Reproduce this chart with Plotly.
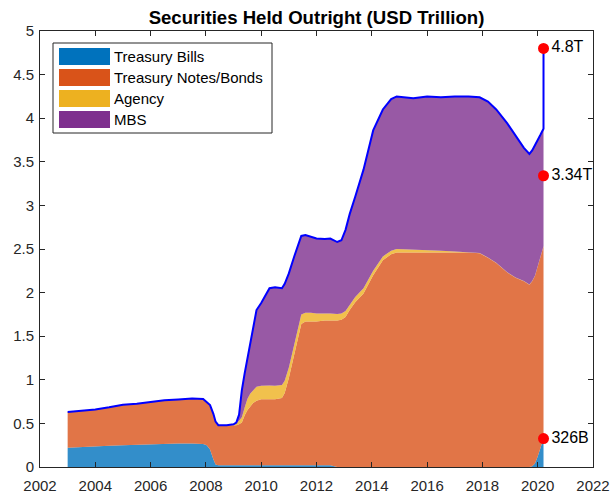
import plotly.graph_objects as go

# ---- data (USD trillion) ----
dates = [2003.0, 2003.5, 2004.0, 2004.5, 2005.0, 2005.5, 2006.0, 2006.5, 2007.0, 2007.5,
         2007.9, 2008.03, 2008.15, 2008.27, 2008.35, 2008.45, 2008.75, 2009.0, 2009.1, 2009.2,
         2009.3, 2009.4, 2009.5, 2009.6, 2009.7, 2009.83, 2010.0, 2010.15, 2010.3, 2010.5,
         2010.75, 2010.85, 2011.0, 2011.2, 2011.45, 2011.6, 2011.8, 2012.0, 2012.3, 2012.5,
         2012.75, 2012.9, 2013.05, 2013.2, 2013.4, 2013.7, 2014.05, 2014.4, 2014.7, 2014.9,
         2015.5, 2016.0, 2016.5, 2017.0, 2017.5, 2017.9, 2018.2, 2018.5, 2018.9, 2019.2,
         2019.5, 2019.7, 2019.8, 2019.9, 2020.0, 2020.1, 2020.21]

treasury_bills = [0.22, 0.23, 0.24, 0.245, 0.25, 0.255, 0.265, 0.27, 0.27, 0.27,
                  0.265, 0.25, 0.20, 0.09, 0.03, 0.02, 0.02, 0.02, 0.02, 0.02,
                  0.02, 0.02, 0.02, 0.02, 0.02, 0.02, 0.02, 0.02, 0.02, 0.02,
                  0.02, 0.02, 0.02, 0.02, 0.02, 0.02, 0.02, 0.02, 0.02, 0.02,
                  0.0, 0.0, 0.0, 0.0, 0.0, 0.0, 0.0, 0.0, 0.0, 0.0,
                  0.0, 0.0, 0.0, 0.0, 0.0, 0.0, 0.0, 0.0, 0.0, 0.0,
                  0.0, 0.0, 0.01, 0.04, 0.12, 0.22, 0.326]

treasury_notes = [0.41, 0.415, 0.42, 0.44, 0.465, 0.47, 0.48, 0.495, 0.505, 0.515,
                  0.515, 0.49, 0.51, 0.52, 0.49, 0.46, 0.46, 0.46, 0.46, 0.47,
                  0.49, 0.57, 0.63, 0.67, 0.71, 0.74, 0.756, 0.756, 0.756, 0.756,
                  0.77, 0.83, 1.00, 1.28, 1.62, 1.65, 1.65, 1.65, 1.66, 1.66,
                  1.68, 1.69, 1.72, 1.80, 1.89, 1.99, 2.20, 2.37, 2.44, 2.46,
                  2.46, 2.46, 2.46, 2.46, 2.46, 2.45, 2.40, 2.34, 2.23, 2.17,
                  2.13, 2.09, 2.12, 2.15, 2.18, 2.18, 2.204]

agency = [0.0, 0.0, 0.0, 0.0, 0.0, 0.0, 0.0, 0.0, 0.0, 0.0,
          0.0, 0.0, 0.0, 0.0, 0.0, 0.0, 0.0, 0.01, 0.02, 0.04,
          0.06, 0.09, 0.13, 0.15, 0.15, 0.16, 0.155, 0.16, 0.16, 0.155,
          0.15, 0.14, 0.12, 0.11, 0.11, 0.10, 0.10, 0.09, 0.085, 0.08,
          0.075, 0.07, 0.07, 0.065, 0.06, 0.06, 0.05, 0.045, 0.04, 0.04,
          0.035, 0.03, 0.02, 0.01, 0.005, 0.004, 0.003, 0.002, 0.002, 0.002,
          0.002, 0.002, 0.002, 0.002, 0.002, 0.002, 0.002]

mbs = [0.0, 0.0, 0.0, 0.0, 0.0, 0.0, 0.0, 0.0, 0.0, 0.0,
       0.0, 0.0, 0.0, 0.0, 0.0, 0.0, 0.0, 0.0, 0.01, 0.07,
       0.31, 0.39, 0.45, 0.56, 0.70, 0.88, 0.95, 1.034, 1.114, 1.129,
       1.11, 1.11, 1.08, 1.01, 0.90, 0.89, 0.87, 0.86, 0.85, 0.86,
       0.825, 0.84, 0.93, 1.035, 1.15, 1.36, 1.61, 1.685, 1.74, 1.75,
       1.735, 1.76, 1.76, 1.78, 1.785, 1.786, 1.787, 1.758, 1.708, 1.628,
       1.528, 1.498, 1.498, 1.498, 1.458, 1.408, 1.348]

latest_date = 2020.21
latest_total = 4.8
marker_values = [4.8, 3.34, 0.326]
marker_labels = ["4.8T", "3.34T", "326B"]

series_names = ["Treasury Bills", "Treasury Notes/Bonds", "Agency", "MBS"]
x_ticks = list(range(2002, 2023, 2))
y_ticks = [0, 0.5, 1, 1.5, 2, 2.5, 3, 3.5, 4, 4.5, 5]
y_tick_text = ["0", "0.5", "1", "1.5", "2", "2.5", "3", "3.5", "4", "4.5", "5"]

# ---- styling ----
base_colors = ["#0072BD", "#D95319", "#EDB120", "#7E2F8E"]
fill_colors = ["rgba(0,114,189,0.8)", "rgba(217,83,25,0.8)",
               "rgba(237,177,32,0.8)", "rgba(126,47,142,0.8)"]
FONT = "Liberation Sans, Arial, Helvetica, sans-serif"
AX = "#262626"

fig = go.Figure()
for name, vals, fc in zip(series_names, [treasury_bills, treasury_notes, agency, mbs], fill_colors):
    fig.add_trace(go.Scatter(x=dates, y=vals, name=name, stackgroup="one",
                             mode="lines", line=dict(width=0, color=fc),
                             fillcolor=fc, showlegend=False, hoverinfo="skip"))

total = [a + b + c + d for a, b, c, d in zip(treasury_bills, treasury_notes, agency, mbs)]
fig.add_trace(go.Scatter(x=dates + [latest_date], y=total + [latest_total], mode="lines",
                         line=dict(color="#0000FF", width=2), showlegend=False))

fig.add_trace(go.Scatter(x=[latest_date] * len(marker_values), y=marker_values,
                         mode="markers+text", text=marker_labels, textposition="middle right",
                         textfont=dict(family=FONT, size=16, color="black"),
                         marker=dict(color="#FF0000", size=11), showlegend=False,
                         cliponaxis=False))

# ---- layout geometry (page pixels; body margin removed by post_script) ----
W, H = 612, 494
L, R, T, B = 40, 593, 31, 467


def px(x):
    return (x - L) / (R - L)


def py(y):
    return (B - y) / (B - T)


shapes = [dict(type="rect", xref="paper", yref="paper", x0=px(53), x1=px(272),
               y0=py(133), y1=py(43), line=dict(color=AX, width=1), fillcolor="white", layer="above")]
annotations = []
for i, (name, col) in enumerate(zip(series_names, base_colors)):
    yc = 56.5 + i * 21
    shapes.append(dict(type="rect", xref="paper", yref="paper", x0=px(59), x1=px(110),
                       y0=py(yc + 8.5), y1=py(yc - 8.5), line=dict(width=0), fillcolor=col,
                       layer="above"))
    annotations.append(dict(xref="paper", yref="paper", x=px(112), y=py(yc), text=name,
                            showarrow=False, xanchor="left", yanchor="middle",
                            font=dict(family=FONT, size=15, color="black")))

fig.update_layout(
    width=W, height=H,
    margin=dict(l=L, r=W - R, t=T, b=H - B, autoexpand=False),
    paper_bgcolor="white", plot_bgcolor="white",
    title=dict(text="<b>Securities Held Outright (USD Trillion)</b>", x=(L + R) / 2 / W,
               xanchor="center", y=1 - 17 / H, yanchor="middle", automargin=False,
               font=dict(family=FONT, size=18.6, color="black")),
    font=dict(family=FONT, size=15, color=AX),
    shapes=shapes, annotations=annotations,
    xaxis=dict(range=[2002, 2022], tickvals=x_ticks, ticks="inside", ticklen=5,
               tickcolor=AX, showline=True, linecolor=AX, linewidth=1, mirror="ticks",
               showgrid=False, zeroline=False, automargin=False, ticklabelstandoff=5,
               tickfont=dict(family=FONT, size=15, color=AX)),
    yaxis=dict(range=[0, 5], tickvals=y_ticks, ticktext=y_tick_text, ticks="inside", ticklen=5,
               tickcolor=AX, showline=True, linecolor=AX, linewidth=1, mirror="ticks",
               showgrid=False, zeroline=False, automargin=False, ticklabelstandoff=2,
               tickfont=dict(family=FONT, size=15, color=AX)),
)

fig.write_html("out.html", config={"displayModeBar": False},
               post_script="document.body.style.margin='0';document.body.style.overflow='hidden';")
